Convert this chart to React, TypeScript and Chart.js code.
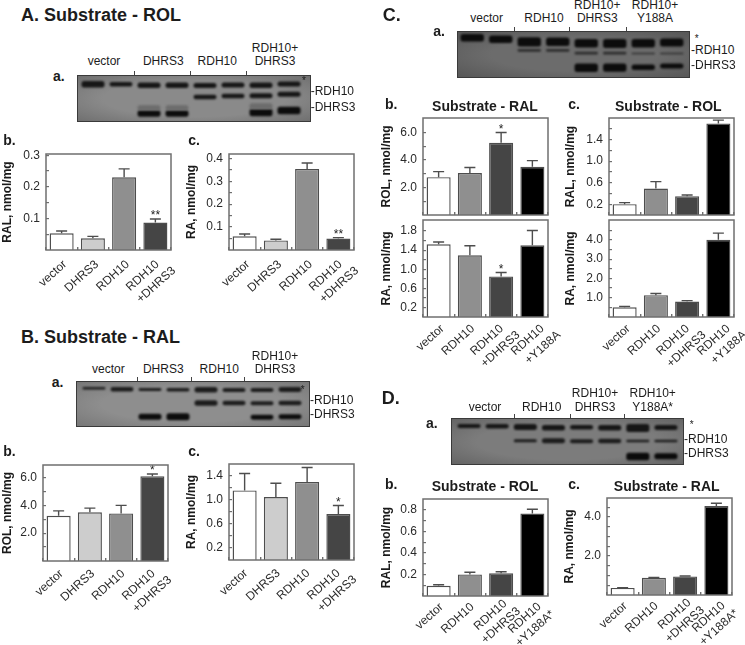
import React, { useEffect, useRef } from "react";
import { Chart, registerables } from "chart.js";

Chart.register(...registerables);
Chart.defaults.font.family = "'Liberation Sans', Arial, sans-serif";

// ---------- data ----------
const labelsDhrs = ["vector", "DHRS3", "RDH10", ["RDH10", "+DHRS3"]];
const labelsY = ["vector", "RDH10", ["RDH10", "+DHRS3"], ["RDH10", "+Y188A"]];
const labelsYStar = ["vector", "RDH10", ["RDH10", "+DHRS3"], ["RDH10", "+Y188A*"]];

const coloursDhrs = ["#ffffff", "#cdcdcd", "#8f8f8f", "#454545"];
const coloursY = ["#ffffff", "#8f8f8f", "#454545", "#000000"];

const abValues = [0.053, 0.037, 0.23, 0.087];
const abTops = [0.06, 0.043, 0.257, 0.098];
const abStars = ["", "", "", "**"];
const abMajor = [0.1, 0.2, 0.3];
const abMinor = [0.05, 0.15, 0.25];

const acValues = [0.06, 0.042, 0.354, 0.05];
const acTops = [0.07, 0.047, 0.38, 0.054];
const acStars = ["", "", "", "**"];
const acMajor = [0.1, 0.2, 0.3, 0.4];
const acMinor = [0.05, 0.15, 0.25, 0.35];

const bbValues = [3.25, 3.5, 3.42, 6.1];
const bbTops = [3.6, 3.8, 4.0, 6.25];
const bbStars = ["", "", "", "*"];
const bbMajor = [2, 4, 6];
const bbMinor = [1, 3, 5];

const bcValues = [1.15, 1.04, 1.29, 0.76];
const bcTops = [1.43, 1.27, 1.53, 0.9];
const bcStars = ["", "", "", "*"];
const bcMajor = [0.2, 0.6, 1.0, 1.4];
const bcMinor = [0.4, 0.8, 1.2];

const cb1Values = [2.75, 3.05, 5.25, 3.5];
const cb1Tops = [3.15, 3.45, 6.0, 3.95];
const cb1Stars = ["", "", "*", ""];
const cb1Major = [2, 4, 6];
const cb1Minor = [1, 3, 5];

const cb2Values = [1.52, 1.29, 0.85, 1.5];
const cb2Tops = [1.57, 1.49, 0.93, 1.81];
const cb2Stars = ["", "", "*", ""];
const cb2Major = [0.2, 0.6, 1.0, 1.4, 1.8];
const cb2Minor = [0.4, 0.8, 1.2, 1.6];

const cc1Values = [0.2, 0.49, 0.35, 1.7];
const cc1Tops = [0.23, 0.62, 0.37, 1.76];
const cc1Major = [0.2, 0.6, 1.0, 1.4];
const cc1Minor = [0.4, 0.8, 1.2, 1.6];

const cc2Values = [0.5, 1.13, 0.8, 4.0];
const cc2Tops = [0.55, 1.22, 0.85, 4.35];
const cc2Major = [1, 2, 3, 4];
const cc2Minor = [0.5, 1.5, 2.5, 3.5, 4.5];

const dbValues = [0.095, 0.2, 0.21, 0.765];
const dbTops = [0.105, 0.22, 0.225, 0.805];
const dbMajor = [0.2, 0.4, 0.6, 0.8];
const dbMinor = [0.1, 0.3, 0.5, 0.7];

const dcValues = [0.36, 0.88, 0.95, 4.56];
const dcTops = [0.38, 0.9, 0.97, 4.7];
const dcMajor = [2, 4];
const dcMinor = [0.5, 1, 1.5, 2.5, 3, 3.5, 4.5];

const noStars = ["", "", "", ""];
const lanes = ["1", "2", "3", "4", "5", "6", "7", "8"];
const _ = null;

// blot bands: [top, bottom] in the blot's own rows
const blotATop = [[6, 12.5], [7, 11.5], [7.5, 13], [7.5, 13], [8, 13], [7.5, 12.5], [7.5, 13], [6.5, 11.5]];
const blotAMid = [_, _, _, _, [19.5, 24], [18.5, 23], [18, 23], [16.5, 21.5]];
const blotALow = [_, _, [35, 41.5], [35, 41.5], _, _, [33.5, 41], [31.5, 39]];
const blotAHalo = [_, _, [30, 35], [30, 35], _, _, [28, 34], _];
const blotBTop = [[6, 8.5], [6, 10.5], [7, 10], [7, 10.5], [6, 11.5], [7, 11], [7, 11], [6, 11]];
const blotBMid = [_, _, _, _, [19.5, 25], [20, 24.5], [20.5, 24.5], [20, 24.5]];
const blotBLow = [_, _, [33, 39], [32.5, 39.5], _, _, [34, 39], [33.5, 38.5]];
const blotCTop = [[3, 10.5], [4.5, 12], [6.3, 15.5], [6.5, 15], [8, 16.5], [8, 17], [8, 16.5], [7.5, 15.5]];
const blotCMid = [_, _, [18, 20.5], [18, 20.5], [20.7, 23.3], [20.7, 23.3], [21.5, 23], [21.5, 23]];
const blotCLow = [_, _, _, _, [32.3, 40.7], [32.3, 40.5], [33.3, 38.7], [32.3, 37.3]];
const blotDTop = [[6, 10], [6, 10.5], [6, 12], [7, 12.5], [7, 11.5], [7, 12.5], [6, 14], [7, 12]];
const blotDMid = [_, _, [21, 24], [20, 25], [21, 25], [20.5, 25], [21.5, 24], [21.5, 24]];
const blotDLow = [_, _, _, _, _, _, [34.5, 42], [35, 41]];

// ---------- layout tables ----------
const line2A = [16.5, 6.3];
const line2D = [13.5, 7.6];
const panels: any[] = [
  { l: 46, t: 154, r: 171, b: 250, ymax: 0.304, title: "RAL, nmol/mg", dist: 39, labels: labelsDhrs, colours: coloursDhrs, values: abValues, tops: abTops, stars: abStars, major: abMajor, minor: abMinor, ly: [12.7, 12.7, 12.7, 12.7], lx: [3.5, 4, 3.5, 2], l2: line2A },
  { l: 229, t: 154, r: 354.3, b: 250, ymax: 0.419, title: "RA, nmol/mg", dist: 37.3, labels: labelsDhrs, colours: coloursDhrs, values: acValues, tops: acTops, stars: acStars, major: acMajor, minor: acMinor, ly: [12.7, 12.7, 12.7, 12.7], lx: [3.5, 4, 3.5, 2], l2: line2A },
  { l: 43, t: 465, r: 168.3, b: 561, ymax: 6.9, title: "ROL, nmol/mg", dist: 36, labels: labelsDhrs, colours: coloursDhrs, values: bbValues, tops: bbTops, stars: bbStars, major: bbMajor, minor: bbMinor, ly: [11, 11, 11, 11], lx: [3, 3, 2, 1], l2: line2A },
  { l: 229, t: 463.7, r: 354.3, b: 560, ymax: 1.587, title: "RA, nmol/mg", dist: 37.3, labels: labelsDhrs, colours: coloursDhrs, values: bcValues, tops: bcTops, stars: bcStars, major: bcMajor, minor: bcMinor, ly: [11.5, 11.5, 11.5, 11.5], lx: [1.5, 2.5, 1, 0], l2: line2A },
  { l: 423.3, t: 118.3, r: 548.7, b: 215, ymax: 7.05, title: "ROL, nmol/mg", dist: 36.7, labels: null, colours: coloursY, values: cb1Values, tops: cb1Tops, stars: cb1Stars, major: cb1Major, minor: cb1Minor },
  { l: 423.3, t: 220, r: 548.7, b: 316.7, ymax: 2.03, title: "RA, nmol/mg", dist: 36.7, labels: labelsY, colours: coloursY, values: cb2Values, tops: cb2Tops, stars: cb2Stars, major: cb2Major, minor: cb2Minor, ly: [10, 10, 10, 10], lx: [4, 3, 0.5, 10], l2: line2A },
  { l: 609, t: 118.3, r: 734.3, b: 215, ymax: 1.8, title: "RAL, nmol/mg", dist: 39, labels: null, colours: coloursY, values: cc1Values, tops: cc1Tops, stars: noStars, major: cc1Major, minor: cc1Minor },
  { l: 609, t: 220, r: 734.3, b: 316.7, ymax: 5.03, title: "RA, nmol/mg", dist: 39, labels: labelsY, colours: coloursY, values: cc2Values, tops: cc2Tops, stars: noStars, major: cc2Major, minor: cc2Minor, ly: [10, 10, 10, 10], lx: [4, 3, 0.5, 10], l2: line2A },
  { l: 423.3, t: 499, r: 548.7, b: 595.7, ymax: 0.9, title: "RAL, nmol/mg", dist: 36.7, labels: labelsYStar, colours: coloursY, values: dbValues, tops: dbTops, stars: noStars, major: dbMajor, minor: dbMinor, ly: [9.3, 9.3, 6, 9], lx: [3, 2.5, 4, 7], l2: line2D },
  { l: 607.3, t: 498.3, r: 732.7, b: 595, ymax: 4.97, title: "RA, nmol/mg", dist: 38, labels: labelsYStar, colours: coloursY, values: dcValues, tops: dcTops, stars: noStars, major: dcMajor, minor: dcMinor, ly: [9.3, 9.3, 6, 9], lx: [3, 2.5, 4, 7], l2: line2D },
];

const blots: any[] = [
  { l: 77, t: 74.7, w: 233.7, h: 46.6, padL: 2, padR: 8, bg: "radial-gradient(ellipse at center, #8a8a8a 55%, #6e6e6e 100%)", rows: [blotAHalo, blotATop, blotAMid, blotALow], colours: ["#6c6c6c", "#161616", "#161616", "#0c0c0c"] },
  { l: 76.3, t: 381, w: 233.7, h: 46.3, padL: 4, padR: 6, bg: "radial-gradient(ellipse at center, #8e8e8e 55%, #767676 100%)", rows: [blotBTop, blotBMid, blotBLow], colours: ["#1c1c1c", "#1c1c1c", "#0c0c0c"] },
  { l: 457.3, t: 31, w: 233.4, h: 46.7, padL: 1, padR: 4, bg: "radial-gradient(ellipse at center, #6c6c6c 50%, #565656 100%)", rows: [blotCTop, blotCMid, blotCLow], colours: ["#0c0c0c", "#2c2c2c", "#0c0c0c"] },
  { l: 450.7, t: 418.3, w: 233.3, h: 46.7, padL: 4, padR: 4, bg: "radial-gradient(ellipse at center, #7c7c7c 55%, #636363 100%)", rows: [blotDTop, blotDMid, blotDLow], colours: ["#161616", "#1c1c1c", "#0a0a0a"] },
];

const texts: any[] = [
  [21, 14.5, "A. Substrate - ROL", 18, 1, "l"],
  [104, 61.3, "vector"], [163.3, 61.3, "DHRS3"], [217.3, 61.3, "RDH10"], [275, 48.3, "RDH10+"], [275, 61.3, "DHRS3"],
  [53, 76, "a.", 14, 1, "l"], [304, 80.5, "*", 10, 0, "c"],
  [310.7, 91.3, "-RDH10", 12, 0, "l"], [310.7, 107.3, "-DHRS3", 12, 0, "l"],
  [3.3, 140, "b.", 14, 1, "l"], [188.3, 140, "c.", 14, 1, "l"],

  [21, 336.7, "B. Substrate - RAL", 18, 1, "l"],
  [108.3, 369, "vector"], [163.3, 369, "DHRS3"], [219.3, 369, "RDH10"], [275, 356, "RDH10+"], [275, 369, "DHRS3"],
  [51.7, 382.3, "a.", 14, 1, "l"], [302.7, 389.5, "*", 10, 0, "c"],
  [310, 400, "-RDH10", 12, 0, "l"], [310, 414.3, "-DHRS3", 12, 0, "l"],
  [3.3, 451, "b.", 14, 1, "l"], [188.3, 451, "c.", 14, 1, "l"],

  [382.7, 15, "C.", 18, 1, "l"],
  [486.7, 18, "vector"], [544, 18, "RDH10"], [597.3, 5, "RDH10+"], [597.3, 18, "DHRS3"], [655, 5, "RDH10+"], [655, 18, "Y188A"],
  [433.3, 31, "a.", 14, 1, "l"], [696.7, 38.5, "*", 10, 0, "c"],
  [691, 50, "-RDH10", 12, 0, "l"], [691, 65, "-DHRS3", 12, 0, "l"],
  [385, 104, "b.", 14, 1, "l"], [485, 105.7, "Substrate - RAL", 14, 1, "c"],
  [568.3, 104, "c.", 14, 1, "l"], [668.3, 105.7, "Substrate - ROL", 14, 1, "c"],

  [381.7, 398.3, "D.", 18, 1, "l"],
  [485, 406.7, "vector"], [541.7, 406.7, "RDH10"], [595, 393.3, "RDH10+"], [595, 406.7, "DHRS3"], [652.7, 393.3, "RDH10+"], [652.7, 406.7, "Y188A*"],
  [426, 423.3, "a.", 14, 1, "l"], [691.7, 425, "*", 10, 0, "c"],
  [684, 438.7, "-RDH10", 12, 0, "l"], [684, 453.3, "-DHRS3", 12, 0, "l"],
  [385, 484, "b.", 14, 1, "l"], [485, 486, "Substrate - ROL", 14, 1, "c"],
  [568.3, 484, "c.", 14, 1, "l"], [666.7, 486, "Substrate - RAL", 14, 1, "c"],
];

const groupTicks = [
  [134.3, 70.7], [190, 70.7], [245.7, 70.7],
  [136.7, 377], [191.3, 377], [244.3, 377],
  [514.3, 27], [569.3, 27], [626, 27],
  [514.3, 414.3], [570.3, 414.3], [624, 414.3],
];

const PAD_TOP = 12;
const PAD_RIGHT = 34;
const LABEL_H = 62;
const FRAME = "#6f6f6f";
const OUTLINE = "#4d4d4d";
const LABEL_ANGLE = (-42 * Math.PI) / 180;

const overlay = (p: any) => ({
  id: "overlay",
  afterDatasetsDraw(chart: any) {
    const { ctx, scales } = chart;
    const meta = chart.getDatasetMeta(0);
    ctx.save();
    ctx.strokeStyle = OUTLINE;
    ctx.lineWidth = 1.4;
    meta.data.forEach((bar: any, i: number) => {
      const y = scales.y.getPixelForValue(p.tops[i]);
      ctx.beginPath();
      ctx.moveTo(bar.x, bar.y);
      ctx.lineTo(bar.x, y);
      ctx.moveTo(bar.x - 5.5, y);
      ctx.lineTo(bar.x + 5.5, y);
      ctx.stroke();
      if (p.stars[i]) {
        ctx.fillStyle = "#222";
        ctx.font = "12px 'Liberation Sans'";
        ctx.textAlign = "center";
        ctx.textBaseline = "middle";
        ctx.fillText(p.stars[i], bar.x, y - 3);
      }
    });
    const a = chart.chartArea;
    ctx.strokeStyle = FRAME;
    ctx.lineWidth = 1.5;
    ctx.strokeRect(a.left, a.top, a.right - a.left, a.bottom - a.top);

    // rotated category labels, one or two lines, placed from the category scale
    if (p.labels) {
      ctx.fillStyle = "#2a2a2a";
      ctx.font = "12px 'Liberation Sans'";
      ctx.textAlign = "right";
      ctx.textBaseline = "middle";
      p.labels.forEach((label: any, i: number) => {
        const lines = Array.isArray(label) ? label : [label];
        const tx = scales.x.getPixelForTick(i) + p.lx[i];
        const ty = a.bottom + p.ly[i];
        lines.forEach((line: string, k: number) => {
          ctx.save();
          ctx.translate(tx + k * p.l2[0], ty + k * p.l2[1]);
          ctx.rotate(LABEL_ANGLE);
          ctx.fillText(line, 0, 0);
          ctx.restore();
        });
      });
    }
    ctx.restore();
  },
});

function makePanel(canvas: HTMLCanvasElement, p: any, axisW: number, xh: number) {
  const labels = p.labels || ["", "", "", ""];
  return new Chart(canvas, {
    type: "bar",
    data: {
      labels,
      datasets: [
        {
          data: p.values,
          backgroundColor: p.colours,
          borderColor: OUTLINE,
          borderWidth: 1.4,
          borderSkipped: "bottom",
          categoryPercentage: 1,
          barPercentage: 0.77,
        },
      ],
    },
    plugins: [overlay(p)],
    options: {
      animation: false,
      responsive: false,
      layout: { padding: { top: PAD_TOP, right: PAD_RIGHT, left: 0, bottom: 0 } },
      plugins: { legend: { display: false }, tooltip: { enabled: false } },
      scales: {
        x: {
          afterFit: (s: any) => { s.height = xh; s.paddingLeft = 0; s.paddingRight = 0; },
          border: { display: false },
          grid: { drawOnChartArea: false, tickLength: -3, color: FRAME, tickColor: FRAME, lineWidth: 1.4 },
          ticks: { display: false, autoSkip: false },
        },
        y: {
          min: 0,
          max: p.ymax,
          afterFit: (s: any) => { s.width = axisW; s.paddingTop = 0; s.paddingBottom = 0; },
          afterBuildTicks: (s: any) => {
            s.ticks = [...p.major, ...p.minor].sort((a, b) => a - b).map((value) => ({ value }));
          },
          border: { display: false },
          title: { display: true, text: p.title, color: "#1a1a1a", padding: 0, font: { size: 12, weight: "bold" } },
          grid: { drawOnChartArea: false, tickLength: -3, tickColor: FRAME, lineWidth: 1.2 },
          ticks: {
            autoSkip: false,
            padding: 9,
            color: "#2a2a2a",
            font: { size: 12 },
            callback: (v: number) => (p.major.includes(v) ? v.toFixed(1) : ""),
          },
        },
      },
    } as any,
  });
}

function makeBlot(canvas: HTMLCanvasElement, b: any) {
  const blur = {
    id: "blur",
    beforeDatasetsDraw(chart: any) {
      chart.ctx.save();
      chart.ctx.filter = "blur(1px)";
    },
    afterDatasetsDraw(chart: any) {
      chart.ctx.restore();
      chart.ctx.save();
      chart.ctx.strokeStyle = "#3a3a3a";
      chart.ctx.lineWidth = 1;
      chart.ctx.strokeRect(0.5, 0.5, chart.width - 1, chart.height - 1);
      chart.ctx.restore();
    },
  };
  return new Chart(canvas, {
    type: "bar",
    data: {
      labels: lanes,
      datasets: b.rows.map((row: any, i: number) => ({
        data: row,
        backgroundColor: b.colours[i],
        borderWidth: 0,
        borderRadius: 2.5,
        borderSkipped: false,
        categoryPercentage: 1,
        barPercentage: 0.82,
        grouped: false,
      })),
    },
    plugins: [blur],
    options: {
      animation: false,
      responsive: false,
      layout: { padding: { left: b.padL, right: b.padR, top: 0, bottom: 0 } },
      plugins: { legend: { display: false }, tooltip: { enabled: false } },
      scales: {
        x: { display: false, stacked: false },
        y: { display: false, reverse: true, min: 0, max: b.h },
      },
    } as any,
  });
}

export default function App() {
  const panelRefs = useRef<(HTMLCanvasElement | null)[]>([]);
  const blotRefs = useRef<(HTMLCanvasElement | null)[]>([]);

  useEffect(() => {
    const charts: Chart[] = [];
    panels.forEach((p, i) => {
      const c = panelRefs.current[i];
      if (c) charts.push(makePanel(c, p, Math.round(p.dist + 7.2), p.labels ? LABEL_H : 10));
    });
    blots.forEach((b, i) => {
      const c = blotRefs.current[i];
      if (c) charts.push(makeBlot(c, b));
    });
    return () => charts.forEach((c) => c.destroy());
  }, []);

  return (
    <div style={{ position: "absolute", left: 0, top: 0, width: 745, height: 645, background: "#fff", overflow: "hidden", fontFamily: "'Liberation Sans', Arial, sans-serif", color: "#1c1c1c" }}>
      {blots.map((b, i) => (
        <canvas
          key={"b" + i}
          ref={(el) => { blotRefs.current[i] = el; }}
          width={Math.round(b.w)}
          height={Math.round(b.h)}
          style={{ position: "absolute", left: Math.round(b.l), top: Math.round(b.t), background: b.bg }}
        />
      ))}
      {panels.map((p, i) => {
        const axisW = Math.round(p.dist + 7.2);
        const xh = p.labels ? LABEL_H : 10;
        return (
          <canvas
            key={"p" + i}
            ref={(el) => { panelRefs.current[i] = el; }}
            width={axisW + Math.round(p.r - p.l) + PAD_RIGHT}
            height={PAD_TOP + Math.round(p.b - p.t) + xh}
            style={{ position: "absolute", left: Math.round(p.l) - axisW, top: Math.round(p.t) - PAD_TOP }}
          />
        );
      })}
      {groupTicks.map(([x, y], i) => (
        <div key={"g" + i} style={{ position: "absolute", left: Math.round(x), top: Math.round(y), width: 1, height: 4, background: "#444" }} />
      ))}
      {texts.map(([x, y, s, size = 12, bold = 0, align = "c"], i) => (
        <div
          key={"t" + i}
          style={{
            position: "absolute",
            left: x,
            top: y,
            fontSize: size,
            fontWeight: bold ? 700 : 400,
            lineHeight: 1,
            whiteSpace: "nowrap",
            transform: align === "c" ? "translate(-50%,-50%)" : "translate(0,-50%)",
          }}
        >
          {s}
        </div>
      ))}
    </div>
  );
}
